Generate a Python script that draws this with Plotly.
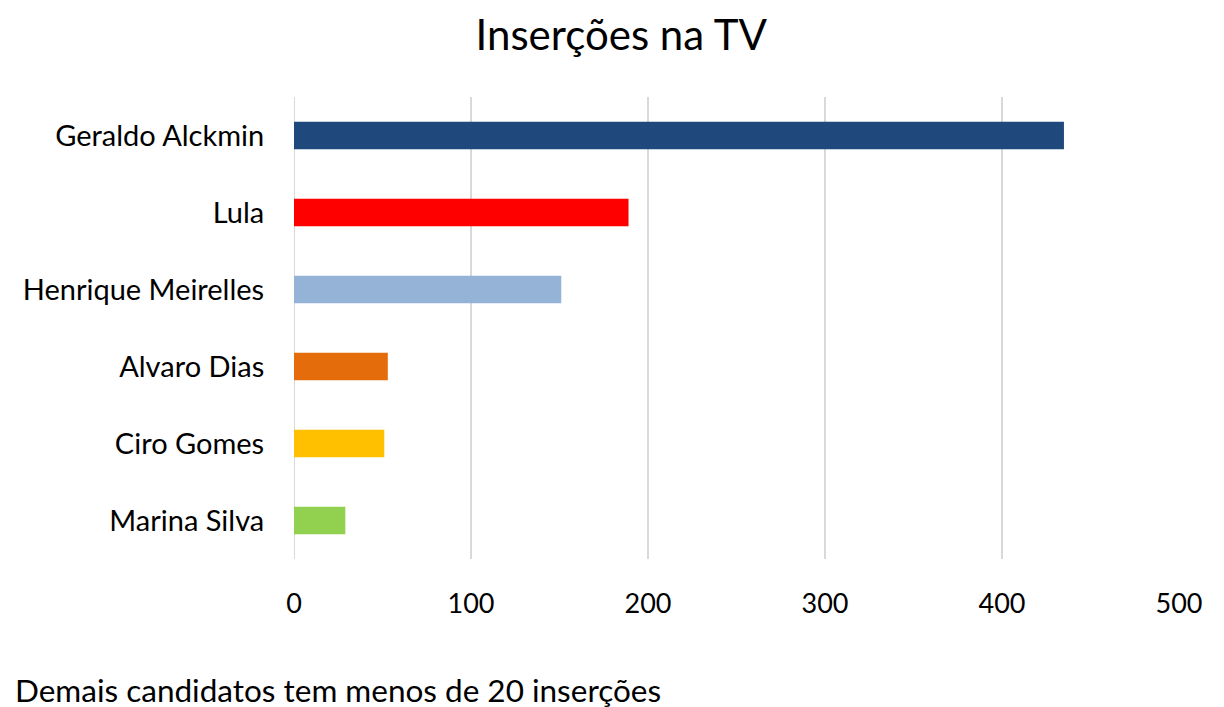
import plotly.graph_objects as go

candidatos = ["Geraldo Alckmin", "Lula", "Henrique Meirelles", "Alvaro Dias", "Ciro Gomes", "Marina Silva"]
insercoes = [435, 189, 151, 53, 51, 29]
cores = ["#1F497D", "#FF0000", "#95B3D7", "#E46C0A", "#FFC000", "#92D050"]
tick_vals = [0, 100, 200, 300, 400, 500]

L, R, T, B = 286, 53, 89, 156
PW, PH = 1224 - L - R, 707 - T - B

fig = go.Figure(go.Bar(
    y=candidatos, x=insercoes, orientation="h",
    marker=dict(color=cores, line=dict(width=0)),
    hoverinfo="x+y",
))

fig.update_layout(
    width=1224, height=707,
    paper_bgcolor="white", plot_bgcolor="white",
    margin=dict(l=L, r=R, t=T, b=B, autoexpand=False),
    bargap=0.64,
    showlegend=False,
    font=dict(family="Lato, Open Sans, sans-serif", color="#000000", size=29),
    title=dict(text="Inserções na TV", x=0.501, xanchor="center", y=1 - 27 / 707, yanchor="middle",
               font=dict(size=42, family="Lato, Open Sans, sans-serif", color="#000000")),
    xaxis=dict(range=[0, 500], tickvals=tick_vals, showgrid=True, gridcolor="#D9D9D9", gridwidth=2,
               zeroline=False, showline=False, ticks="outside", ticklen=21, tickcolor="rgba(0,0,0,0)",
               tickfont=dict(size=27), fixedrange=True),
    yaxis=dict(autorange="reversed", showgrid=False, zeroline=False, showline=False,
               ticks="outside", ticklen=23, tickcolor="rgba(0,0,0,0)", tickfont=dict(size=29)),
    annotations=[dict(text="Demais candidatos tem menos de 20 inserções", xref="paper", yref="paper",
                      x=-(L - 5) / PW, xanchor="left", y=-131 / PH, yanchor="middle", showarrow=False,
                      font=dict(size=31.5))],
)
fig.add_shape(type="line", xref="x", yref="paper", x0=0, x1=0, y0=0, y1=1,
              line=dict(color="#D9D9D9", width=2), layer="below")

fig.write_html("out.html")
